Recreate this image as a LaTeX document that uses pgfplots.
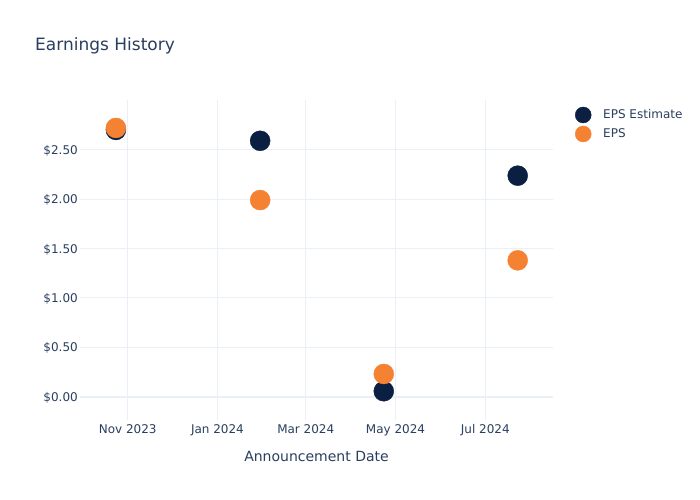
\documentclass[border=0pt]{standalone}
\usepackage{pgfplots}
\pgfplotsset{compat=1.18}
\usepackage{fontspec}
\setmainfont{DejaVu Sans}
\definecolor{navy}{HTML}{0B1F42}
\definecolor{orng}{HTML}{F58233}
\definecolor{txt}{HTML}{2A3F5F}
\definecolor{grd}{HTML}{EBF0F8}
\begin{document}
\begin{tikzpicture}[x=1bp,y=1bp]
\path[use as bounding box, fill=white] (0,0) rectangle (700,500);
\node[anchor=west, text=txt, font=\fontsize{17bp}{20bp}\selectfont, inner sep=0] at (35,454) {Earnings History};
\begin{axis}[
  at={(80bp,80bp)}, anchor=south west,
  scale only axis, width=473bp, height=320bp,
  xmin=-32.4, xmax=289, ymin=-0.236, ymax=3.003,
  axis line style={draw=none},
  major tick length=0pt,
  xtick={0,61,121,182,243},
  xticklabels={Nov 2023,Jan 2024,Mar 2024,May 2024,Jul 2024},
  ytick={0,0.5,1,1.5,2,2.5},
  yticklabels={\$0.00,\$0.50,\$1.00,\$1.50,\$2.00,\$2.50},
  grid=major, major grid style={draw=grd, line width=1bp},
  extra y ticks={0}, extra y tick labels={},
  extra y tick style={grid=major, major grid style={draw=grd, line width=2bp}},
  tick label style={text=txt, font=\fontsize{12bp}{14bp}\selectfont},
  xticklabel style={anchor=north, inner sep=0pt, yshift=-4bp},
  yticklabel style={anchor=east, inner sep=0pt, xshift=-2bp, yshift=-1bp},
  xlabel={Announcement Date},
  xlabel style={at={(axis description cs:0.5,0)}, anchor=center, yshift=-36bp, text=txt, font=\fontsize{14bp}{16bp}\selectfont},
  clip=false,
  legend cell align=left,
  legend style={at={(axis description cs:1.0402,0.985)}, anchor=north west, draw=none, fill=none,
    nodes={inner sep=1bp, text=txt, font=\fontsize{12bp}{14bp}\selectfont}, row sep=3bp, column sep=0bp},
  legend image code/.code={\draw[mark size=8bp] plot coordinates {(8bp,0)};},
]
\addplot[only marks, mark=*, mark size=10bp, mark options={draw=navy, fill=navy}] coordinates {
  (-8,2.70) (90,2.59) (174,0.055) (265,2.237)
};
\addlegendentry{\hspace{11bp}EPS Estimate}
\addplot[only marks, mark=*, mark size=10bp, mark options={draw=orng, fill=orng}] coordinates {
  (-8,2.72) (90,1.99) (174,0.23) (265,1.38)
};
\addlegendentry{\hspace{11bp}EPS}
\end{axis}
\end{tikzpicture}
\end{document}
